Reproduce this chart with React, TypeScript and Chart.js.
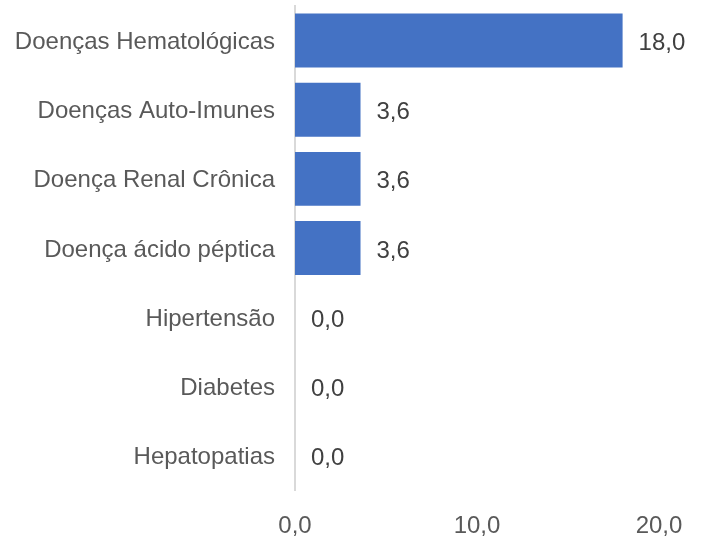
import React, { useEffect, useRef } from "react";
import { Chart, registerables } from "chart.js";

Chart.register(...registerables);

const categories = [
  "Doenças Hematológicas",
  "Doenças Auto-Imunes",
  "Doença Renal Crônica",
  "Doença ácido péptica",
  "Hipertensão",
  "Diabetes",
  "Hepatopatias",
];
const values = [18.0, 3.6, 3.6, 3.6, 0.0, 0.0, 0.0];
const xMin = 0;
const xMax = 20;
const xStep = 10;

const fmt = (v: number) => v.toFixed(1).replace(".", ",");
const FONT = "'Liberation Sans', Arial, sans-serif";

const valueLabels = {
  id: "valueLabels",
  afterDatasetsDraw(chart: any) {
    const ctx = chart.ctx;
    const meta = chart.getDatasetMeta(0);
    ctx.save();
    ctx.font = `24px ${FONT}`;
    ctx.fillStyle = "#404040";
    ctx.textAlign = "left";
    ctx.textBaseline = "middle";
    meta.data.forEach((bar: any, i: number) => {
      ctx.fillText(fmt(values[i]), bar.x + 16, bar.y + 3);
    });
    ctx.restore();
  },
};

export default function App() {
  const ref = useRef<HTMLCanvasElement>(null);
  useEffect(() => {
    document.body.style.margin = "0";
    const chart = new Chart(ref.current!, {
      type: "bar",
      data: {
        labels: categories,
        datasets: [
          {
            data: values,
            backgroundColor: "#4472C4",
            barPercentage: 0.78,
            categoryPercentage: 1,
          },
        ],
      },
      options: {
        indexAxis: "y",
        animation: false,
        responsive: false,
        maintainAspectRatio: false,
        layout: { padding: { top: 6, right: 45, left: 0, bottom: 0 } },
        plugins: { legend: { display: false }, tooltip: { enabled: false } },
        scales: {
          x: {
            min: xMin,
            max: xMax,
            ticks: {
              stepSize: xStep,
              padding: 22,
              color: "#595959",
              font: { family: FONT, size: 24 },
              callback: (v: any) => fmt(Number(v)),
            },
            grid: { display: false, drawTicks: false },
            border: { display: false },
            afterFit: (s: any) => {
              s.height = 50;
              s.paddingLeft = 0;
              s.paddingRight = 0;
            },
          },
          y: {
            ticks: {
              padding: 20,
              labelOffset: 2,
              color: "#595959",
              font: { family: FONT, size: 24 },
            },
            grid: { display: false, drawTicks: false },
            border: { display: true, color: "#d9d9d9", width: 2 },
            afterFit: (s: any) => {
              s.width = 295;
              s.paddingTop = 0;
              s.paddingBottom = 0;
            },
          },
        },
      },
      plugins: [valueLabels],
    });
    return () => chart.destroy();
  }, []);
  return (
    <div style={{ width: 704, height: 540, background: "#fff" }}>
      <canvas ref={ref} width={704} height={540} style={{ display: "block" }} />
    </div>
  );
}
